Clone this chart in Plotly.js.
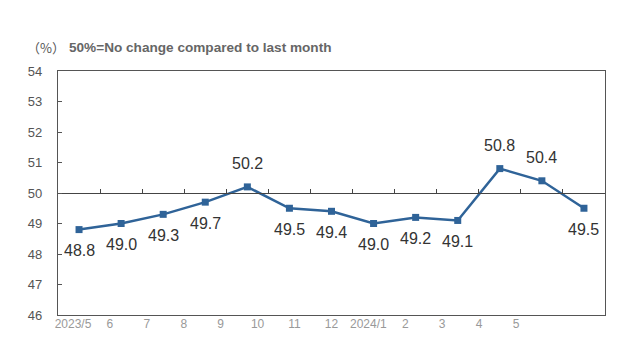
<!DOCTYPE html>
<html>
<head>
<meta charset="utf-8">
<script src="https://cdn.plot.ly/plotly-3.0.1.min.js"></script>
<style>html,body{margin:0;padding:0;background:#fff;}#chart{width:642px;height:362px;}</style>
</head>
<body>
<div id="chart"></div>
<script>
const months = ["2023/5","6","7","8","9","10","11","12","2024/1","2","3","4","5"];
const pmi = [48.8, 49.0, 49.3, 49.7, 50.2, 49.5, 49.4, 49.0, 49.2, 49.1, 50.8, 50.4, 49.5];
const yTicks = [46, 47, 48, 49, 50, 51, 52, 53, 54];

const idx = months.map((_, i) => i);
const lineColor = '#2f6398';

const traces = [
  {
    x: idx, y: pmi, type: 'scatter', mode: 'lines+markers',
    line: {color: lineColor, width: 2.5},
    marker: {symbol: 'square', size: 7, color: lineColor},
    hoverinfo: 'skip', showlegend: false
  },
  { x: idx, y: pmi, xaxis: 'x2', yaxis: 'y', mode: 'markers', marker: {opacity: 0}, hoverinfo: 'skip', showlegend: false },
  { x: idx, y: pmi, xaxis: 'x3', yaxis: 'y', mode: 'markers', marker: {opacity: 0}, hoverinfo: 'skip', showlegend: false }
];

const annotations = pmi.map((v, i) => ({
  x: i, y: v, xref: 'x', yref: 'y', text: v.toFixed(1), showarrow: false,
  yshift: v > 50 ? 23 : -21,
  font: {family: 'Arial, Liberation Sans, sans-serif', size: 16, color: '#333'}
}));
annotations.push({
  xref: 'paper', yref: 'paper', x: -0.06, y: 1.0, yshift: 24, xanchor: 'left', yanchor: 'middle',
  text: '（%）', showarrow: false,
  font: {family: 'Noto Sans CJK SC, sans-serif', size: 13, color: '#555'}
});
annotations.push({
  xref: 'paper', yref: 'paper', x: 0.016, y: 1.0, yshift: 24, xanchor: 'left', yanchor: 'middle',
  text: '<b>50%=No change compared to last month</b>', showarrow: false,
  font: {family: 'Arial, Liberation Sans, sans-serif', size: 13.6, color: '#666'}
});

const layout = {
  width: 642, height: 362,
  margin: {l: 58, r: 37, t: 71, b: 47},
  paper_bgcolor: '#fff', plot_bgcolor: '#fff',
  showlegend: false,
  xaxis: {
    range: [-0.5, 12.5], showticklabels: false, ticks: '', showgrid: false, zeroline: false,
    showline: true, mirror: true, linecolor: '#555', linewidth: 1.2
  },
  xaxis2: {
    overlaying: 'x', anchor: 'y', side: 'bottom',
    range: [-0.406, 14.41], tickmode: 'array', tickvals: idx, ticktext: months,
    showgrid: false, zeroline: false, showline: false, ticks: '',
    tickfont: {family: 'Arial, Liberation Sans, sans-serif', size: 12, color: '#999'}
  },
  xaxis3: {
    overlaying: 'x', anchor: 'free', position: 0.5, side: 'top',
    range: [-0.5, 12.5], tickmode: 'array', tickvals: idx.slice(0, -1).map(i => i + 0.5),
    showticklabels: false, ticks: 'outside', ticklen: 4, tickcolor: '#444', tickwidth: 1,
    showgrid: false, zeroline: false, showline: true, linecolor: '#444', linewidth: 1
  },
  yaxis: {
    range: [46, 54], tickmode: 'array', tickvals: yTicks, ticktext: yTicks.map(String),
    ticks: 'inside', ticklen: 4, tickcolor: '#555', showgrid: false, zeroline: false,
    showline: true, mirror: true, linecolor: '#555', linewidth: 1.2,
    ticklabelstandoff: 12,
    tickfont: {family: 'Liberation Sans Narrow, sans-serif', size: 13, color: '#555'}
  },
  annotations: annotations
};

Plotly.newPlot('chart', traces, layout, {staticPlot: true, displayModeBar: false});
</script>
</body>
</html>
